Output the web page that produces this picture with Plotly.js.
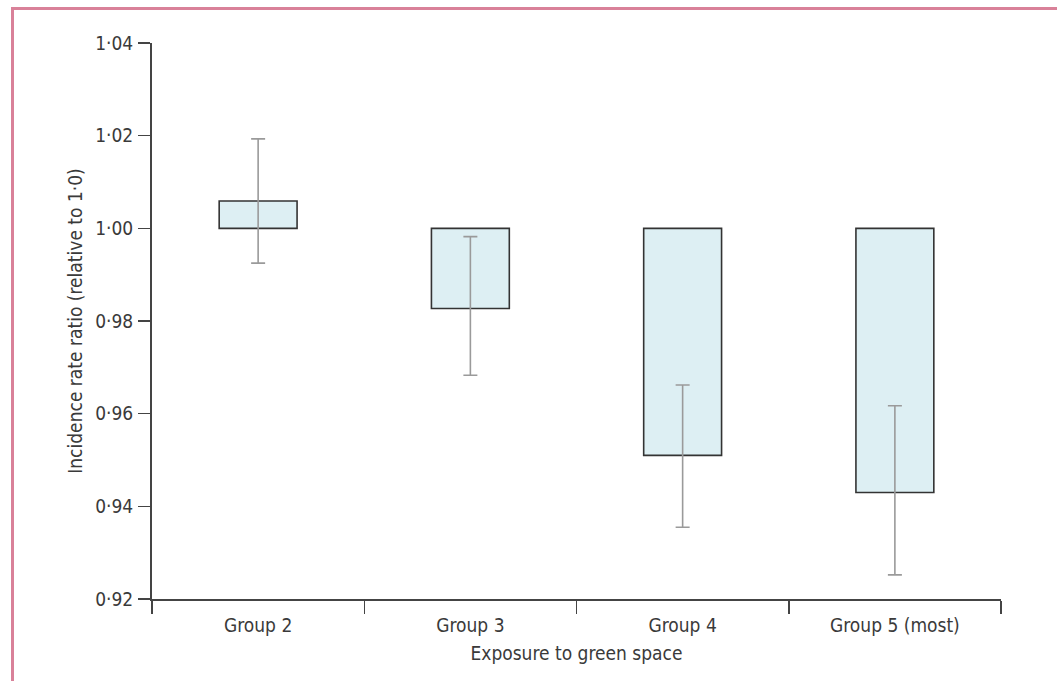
<!DOCTYPE html>
<html>
<head>
<meta charset="utf-8">
<script src="https://cdn.plot.ly/plotly-3.0.1.min.js"></script>
<style>
  html, body { margin: 0; padding: 0; background: #fff; }
  #chart { position: absolute; left: 0; top: 0; width: 1057px; height: 681px; }
  #frame { position: absolute; left: 11px; top: 7px; width: 1060px; height: 690px;
           border-top: 3px solid #d98199; border-left: 3px solid #d98199; pointer-events: none; }
</style>
</head>
<body>
<div id="chart"></div>
<div id="frame"></div>
<script>
// Data
const categories = ["Group 2", "Group 3", "Group 4", "Group 5 (most)"];
const irr = [1.0059, 0.9827, 0.9510, 0.9430];      // incidence rate ratio
const ciUpper = [1.0193, 0.9982, 0.9662, 0.9617];
const ciLower = [0.9925, 0.9683, 0.9355, 0.9252];
const baseline = 1.0;
const yTickVals = [0.92, 0.94, 0.96, 0.98, 1.00, 1.02, 1.04];
const yTickText = ["0·92", "0·94", "0·96", "0·98", "1·00", "1·02", "1·04"];

const font = "DejaVu Sans Condensed, Liberation Sans Narrow, sans-serif";

const barTrace = {
  type: "bar",
  x: categories,
  y: irr.map(v => v - baseline),
  base: categories.map(() => baseline),
  marker: { color: "#ddeff3", line: { color: "#333333", width: 1.6 } },
  hoverinfo: "skip",
  showlegend: false
};

const errTrace = {
  type: "scatter",
  mode: "markers",
  x: categories,
  y: irr,
  marker: { size: 1, opacity: 0 },
  error_y: {
    type: "data",
    symmetric: false,
    array: irr.map((v, i) => ciUpper[i] - v),
    arrayminus: irr.map((v, i) => v - ciLower[i]),
    color: "#9a9a9a",
    thickness: 1.6,
    width: 7
  },
  hoverinfo: "skip",
  showlegend: false
};

const layout = {
  width: 1057,
  height: 681,
  margin: { l: 152, r: 56, t: 43, b: 82 },
  paper_bgcolor: "#ffffff",
  plot_bgcolor: "#ffffff",
  font: { family: font, size: 19, color: "#3a3a3a" },
  bargap: 0.633,
  showlegend: false,
  xaxis: {
    type: "category",
    showline: true,
    linecolor: "#444444",
    linewidth: 2,
    ticks: "outside",
    tickson: "boundaries",
    ticklen: 13,
    tickwidth: 1.5,
    tickcolor: "#444444",
    ticklabelstandoff: 8,
    showgrid: false,
    zeroline: false,
    tickfont: { family: font, size: 19, color: "#3a3a3a" },
    title: { text: "Exposure to green space", font: { family: font, size: 19, color: "#3a3a3a" }, standoff: 12 }
  },
  yaxis: {
    range: [0.92, 1.04],
    tickvals: yTickVals,
    ticktext: yTickText,
    showline: true,
    linecolor: "#444444",
    linewidth: 2,
    ticks: "outside",
    ticklen: 12,
    tickwidth: 1.5,
    tickcolor: "#444444",
    ticklabelstandoff: 1,
    showgrid: false,
    zeroline: false,
    tickfont: { family: font, size: 19, color: "#3a3a3a" },
    title: { text: "Incidence rate ratio (relative to 1·0)", font: { family: font, size: 19, color: "#3a3a3a" }, standoff: 8 }
  }
};

Plotly.newPlot("chart", [barTrace, errTrace], layout, { displayModeBar: false, staticPlot: true });
</script>
</body>
</html>
